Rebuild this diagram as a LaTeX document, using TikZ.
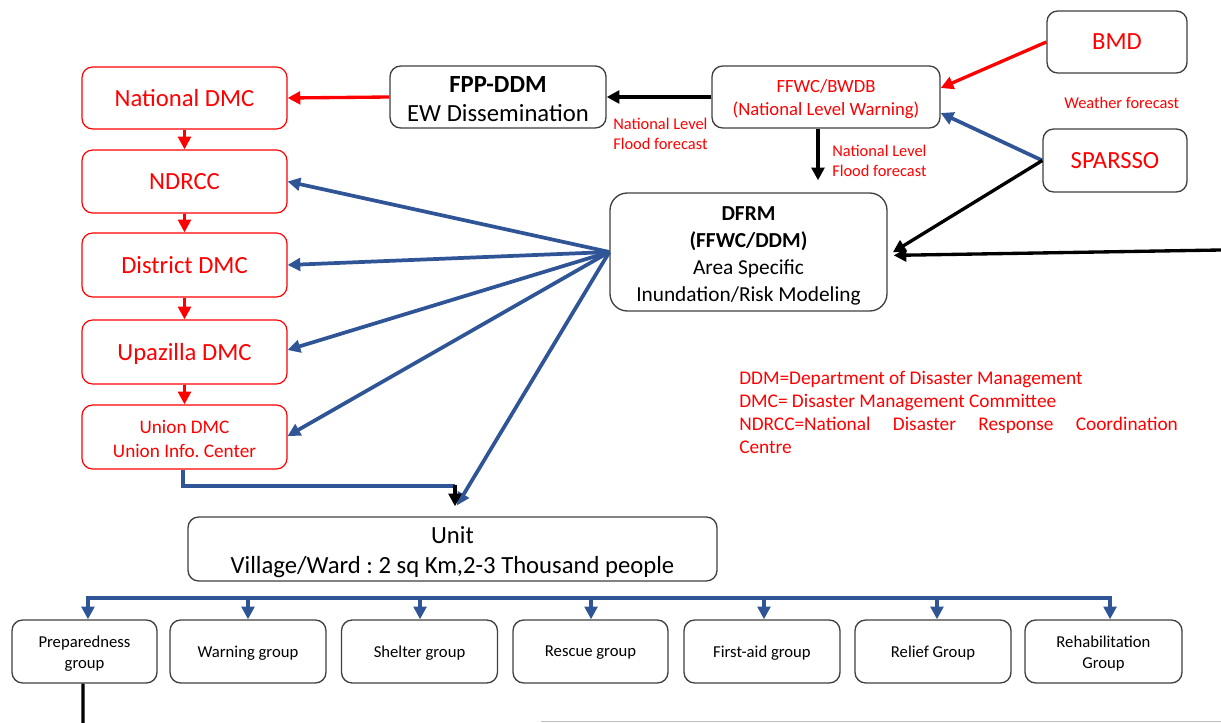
\documentclass[tikz,border=0pt]{standalone}
\usepackage{fontspec}
\setmainfont{Carlito}
\usetikzlibrary{arrows.meta}
\definecolor{dblue}{RGB}{47,85,151}
\definecolor{bord}{RGB}{64,64,64}
\definecolor{rd}{RGB}{255,0,0}
\frenchspacing
\begin{document}
\begin{tikzpicture}[x=0.75pt,y=-0.75pt,
  box/.style={draw=bord,line width=1pt,rounded corners=8pt,fill=white,align=center,inner sep=0pt},
  rbox/.style={draw=rd,line width=0.9pt,rounded corners=8pt,fill=white,align=center,inner sep=0pt,text=rd},
  tip/.style={-{Triangle[length=9.5pt,width=9.5pt]}},
  tips/.style={{Triangle[length=9.5pt,width=9.5pt]}-{Triangle[length=9.5pt,width=9.5pt]}},
  blueline/.style={draw=dblue,line width=2.8pt},
  bluearr/.style={tip,blueline},
  redarr/.style={tip,draw=rd,line width=2.5pt},
  blackarr/.style={tip,draw=black,line width=2.5pt},
  big/.style={font=\fontsize{18.5}{21.75}\selectfont},
  one/.style={text depth=0pt},
  grp/.style={box,minimum height=47.25pt,font=\fontsize{12.5}{15.75}\selectfont},
  small/.style={text=rd,align=left,inner sep=0pt,font=\fontsize{12.3}{15}\selectfont},
]
\useasboundingbox (0,0) rectangle (1221,723);

% left column
\node[rbox,big,one,minimum width=153.75pt,minimum height=46.5pt] (natdmc) at (184.5,98) {National DMC};
\node[rbox,big,one,minimum width=153.75pt,minimum height=47.25pt] (ndrcc) at (184.5,181.5) {NDRCC};
\node[rbox,big,one,minimum width=153.75pt,minimum height=48pt] (district) at (184.5,265) {District DMC};
\node[rbox,big,one,minimum width=153.75pt,minimum height=48pt] (upazilla) at (184.5,352) {Upazilla DMC};
\node[rbox,minimum width=153.75pt,minimum height=48pt,font=\fontsize{14.4}{18}\selectfont] (union) at (184.5,437) {\rule{0pt}{12.3pt}Union DMC\\Union Info. Center};

% top row
\node[box,big,minimum width=162pt,minimum height=46.5pt] (fpp) at (498,97) {\rule{0pt}{15pt}\textbf{FPP-DDM}\\EW Dissemination};
\node[box,text=rd,minimum width=171pt,minimum height=46.5pt,font=\fontsize{14}{17.25}\selectfont] (ffwc) at (826,97) {\rule{0pt}{13.5pt}FFWC/BWDB\\(National Level Warning)};
\node[box,big,one,text=rd,minimum width=105pt,minimum height=46.5pt] (bmd) at (1117,42) {BMD};
\node[box,big,one,text=rd,minimum width=108pt,minimum height=47.25pt] (sparsso) at (1115,160.5) {SPARSSO};
\node[box,rounded corners=13pt,minimum width=207.75pt,minimum height=88.5pt,font=\fontsize{16}{20.25}\selectfont] (dfrm) at (748.5,252) {\rule{0pt}{16.3pt}\textbf{DFRM}\\\textbf{(FFWC/DDM)}\\Area Specific\\Inundation/Risk Modeling};

% unit and groups
\node[box,minimum width=396.75pt,minimum height=48pt,font=\fontsize{18.5}{22.5}\selectfont] (unit) at (452.5,549) {\rule{0pt}{18pt}Unit\\Village/Ward : 2 sq Km,2-3 Thousand people};
\node[grp,minimum width=108.75pt] (prep) at (84.5,651.5) {\rule{0pt}{11.8pt}Preparedness\\group};
\node[grp,one,minimum width=117pt] (warn) at (248,651.5) {Warning group};
\node[grp,one,minimum width=117pt] (shelter) at (419.5,651.5) {Shelter group};
\node[grp,one,minimum width=116.25pt] (rescue) at (590.5,651.5) {Rescue group};
\node[grp,one,minimum width=117pt] (firstaid) at (762,651.5) {First-aid group};
\node[grp,one,minimum width=117pt] (relief) at (933,651.5) {Relief Group};
\node[grp,minimum width=117.75pt] (rehab) at (1103.5,651.5) {\rule{0pt}{11.8pt}Rehabilitation\\Group};

% labels
\node[small,anchor=west] (lab1) at (613,134) {National Level\\Flood forecast};
\node[small,anchor=west] (lab2) at (832,161) {National Level\\Flood forecast};
\node[small,anchor=west] (wf) at (1064,103) {Weather forecast};
\node[text=rd,align=left,inner sep=0pt,anchor=north west,font=\fontsize{14.5}{17.25}\selectfont] (legend) at (739,370.5)
  {DDM=Department of Disaster Management\\DMC= Disaster Management Committee\\\hbox to 329pt{NDRCC=National\hfill Disaster\hfill Response\hfill Coordination}\\Centre};

% coordinates
\coordinate (bus) at (0,598);
\coordinate (redge) at (1221,250);
\coordinate (uj) at (455,486);
\coordinate (pbot) at (83,723);
\coordinate (din) at ([yshift=-2.6pt]dfrm.east);
\coordinate (unitin) at ([xshift=3.4pt,yshift=8.25pt]unit.north);
\coordinate (fd) at ([xshift=-6pt]ffwc.south);
\coordinate (pA) at ([xshift=2.6pt]prep.north);
\coordinate (wA) at (warn.north);
\coordinate (sA) at ([xshift=0.4pt]shelter.north);
\coordinate (rA) at ([xshift=0.4pt]rescue.north);
\coordinate (fA) at ([xshift=1.5pt]firstaid.north);
\coordinate (lA) at ([xshift=3pt]relief.north);
\coordinate (hA) at ([xshift=4.9pt]rehab.north);

% top connectors
\draw[redarr] (bmd.west) -- ([yshift=6.75pt]ffwc.east);
\draw[bluearr] (sparsso.west) -- ([yshift=-12pt]ffwc.east);
\draw[blackarr,shorten >=4.5pt] (sparsso.west) -- (din);
\draw[blackarr,shorten >=4.5pt] (redge) -- (din);
\draw[blackarr] (ffwc.west) -- (fpp.east);
\draw[blackarr,shorten >=9pt] (fd) -- (fd |- dfrm.north);
\draw[redarr] (fpp.west) -- (natdmc.east);

% left column connectors
\draw[redarr] (natdmc.south) -- (ndrcc.north);
\draw[redarr] (ndrcc.south) -- (district.north);
\draw[redarr] (district.south) -- (upazilla.north);
\draw[redarr] (upazilla.south) -- (union.north);

% DFRM fan
\draw[bluearr] (dfrm.west) -- (ndrcc.east);
\draw[bluearr] (dfrm.west) -- (district.east);
\draw[bluearr] (dfrm.west) -- ([yshift=1.5pt]upazilla.east);
\draw[bluearr] (dfrm.west) -- ([yshift=0.75pt]union.east);
\draw[bluearr] (dfrm.west) -- (unitin);

% union to unit
\draw[blueline,line join=miter] ([xshift=-1.1pt]union.south) |- (uj);
\draw[blackarr,shorten >=7.5pt] ([yshift=1pt]uj) -- (uj |- unit.north);

% bus to groups
\draw[blueline,tips,line join=miter] (pA) -- (pA |- bus) -- (hA |- bus) -- (hA);
\foreach \g in {wA,sA,rA,fA,lA} \draw[bluearr] (\g |- bus) -- (\g);

% bottom lines
\draw[black,line width=2.5pt] ([xshift=-1.1pt]prep.south) -- (pbot);
\draw[black!25,line width=1.2pt] (541,721.5) -- (1221,721.5);
\end{tikzpicture}
\end{document}
